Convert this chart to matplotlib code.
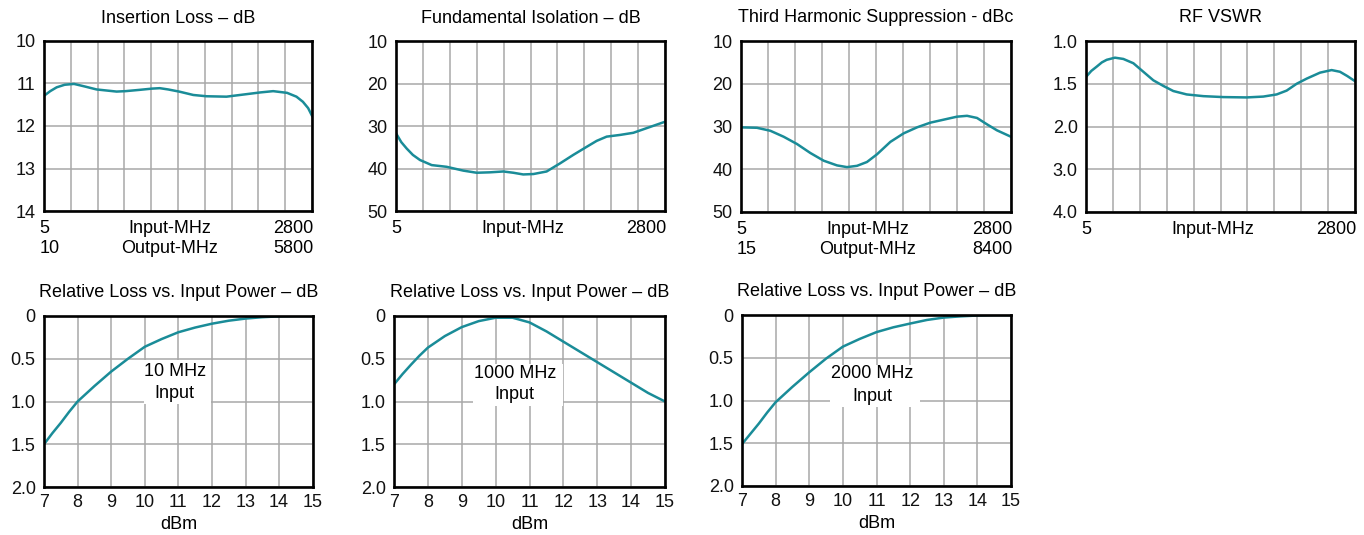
import numpy as np
import matplotlib
matplotlib.use("Agg")
import matplotlib.pyplot as plt
from matplotlib.patches import Rectangle

plt.rcParams['font.family'] = ['Liberation Sans', 'DejaVu Sans']
FS = 13
plt.rcParams['font.size'] = FS

# ---------------- data ----------------
# Insertion Loss (dB) vs input MHz
il_mhz = [5, 70, 137, 220, 318, 430, 553, 762, 855, 1000, 1134, 1212, 1300, 1414, 1562,
          1699, 1908, 1978, 2120, 2261, 2395, 2540, 2638, 2705, 2760, 2800]
il_db = [11.29, 11.18, 11.09, 11.03, 11.01, 11.07, 11.14, 11.19, 11.18, 11.15, 11.12,
         11.11, 11.14, 11.19, 11.27, 11.30, 11.31, 11.29, 11.25, 11.21, 11.18, 11.22,
         11.31, 11.43, 11.58, 11.76]

# Fundamental Isolation (dB)
fi_mhz = [5, 60, 116, 180, 254, 376, 531, 704, 843, 981, 1120, 1224, 1327, 1433, 1570,
          1709, 1847, 1986, 2090, 2194, 2333, 2471, 2610, 2800]
fi_db = [31.7, 33.8, 35.3, 36.8, 38.0, 39.2, 39.6, 40.5, 41.0, 40.9, 40.7, 41.0, 41.4,
         41.3, 40.7, 38.8, 36.8, 34.9, 33.5, 32.5, 32.1, 31.6, 30.5, 29.0]

# Third Harmonic Suppression (dBc)
th_mhz = [5, 170, 309, 447, 585, 723, 861, 999, 1102, 1206, 1309, 1413, 1551, 1689,
          1827, 1965, 2103, 2241, 2345, 2448, 2552, 2655, 2800]
th_dbc = [30.2, 30.3, 31.0, 32.4, 34.1, 36.2, 38.0, 39.1, 39.5, 39.2, 38.3, 36.5, 33.6,
          31.6, 30.2, 29.1, 28.4, 27.7, 27.5, 28.0, 29.5, 30.9, 32.4]

# RF VSWR
vs_mhz = [5, 60, 116, 170, 220, 306, 393, 497, 601, 705, 808, 912, 1051, 1224, 1432,
          1674, 1847, 1986, 2090, 2194, 2298, 2437, 2557, 2644, 2720, 2800]
vs_val = [1.42, 1.35, 1.30, 1.25, 1.22, 1.195, 1.21, 1.26, 1.36, 1.46, 1.525, 1.585,
          1.625, 1.645, 1.656, 1.66, 1.65, 1.625, 1.58, 1.50, 1.44, 1.37, 1.34, 1.36,
          1.41, 1.47]

# Relative loss vs input power (dB)
pw_dbm = [7, 7.25, 7.5, 7.75, 8, 8.5, 9, 9.5, 10, 10.5, 11, 11.5, 12, 12.5, 13, 13.5,
          14, 14.5, 15]
rl_10 = [1.50, 1.37, 1.25, 1.12, 1.00, 0.82, 0.65, 0.50, 0.36, 0.27, 0.19, 0.135, 0.09,
         0.055, 0.03, 0.014, 0.004, 0.0, 0.0]
rl_1000 = [0.80, 0.68, 0.57, 0.465, 0.37, 0.235, 0.13, 0.06, 0.02, 0.02, 0.075, 0.18,
           0.30, 0.42, 0.54, 0.66, 0.78, 0.90, 1.00]
rl_2000 = [1.51, 1.39, 1.27, 1.14, 1.02, 0.84, 0.67, 0.51, 0.37, 0.28, 0.20, 0.144,
           0.10, 0.058, 0.03, 0.016, 0.006, 0.0, 0.0]

freq_ticks = np.linspace(5, 2800, 11)
vswr_ticks = [1.0, 1.5, 2.0, 3.0, 4.0]
vswr_labels = ['1.0', '1.5', '2.0', '3.0', '4.0']
pw_ticks = [7, 8, 9, 10, 11, 12, 13, 14, 15]
rl_ticks = [0, 0.5, 1.0, 1.5, 2.0]
rl_labels = ['0', '0.5', '1.0', '1.5', '2.0']

# ---------------- style ----------------
LINE = '#1a8c98'
GRID = '#a8a8a8'
W, H = 1364, 535

fig = plt.figure(figsize=(W / 100, H / 100), dpi=100)


def make_ax(l, t, r, b):
    ax = fig.add_axes([l / W, 1 - b / H, (r - l) / W, (b - t) / H])
    for s in ax.spines.values():
        s.set_linewidth(1.9)
        s.set_color('black')
        s.set_zorder(5)
    ax.set_axisbelow(True)
    ax.grid(True, color=GRID, linewidth=1.1)
    ax.tick_params(length=0, pad=6, labelsize=FS, colors='#111111')
    return ax


def freq_axis(ax, out_lo=None, out_hi=None):
    ax.set_xlim(5, 2800)
    ax.set_xticks(freq_ticks)
    ax.tick_params(axis='x', labelbottom=False)
    tr = ax.transAxes
    ax.text(0.0, -0.1, '5', transform=tr, ha='center', va='center')
    ax.text(0.47, -0.1, 'Input-MHz', transform=tr, ha='center', va='center')
    ax.text(1.005, -0.1, '2800', transform=tr, ha='right', va='center')
    if out_lo is not None:
        ax.text(-0.015, -0.218, out_lo, transform=tr, ha='left', va='center')
        ax.text(0.47, -0.218, 'Output-MHz', transform=tr, ha='center', va='center')
        ax.text(1.005, -0.218, out_hi, transform=tr, ha='right', va='center')


def title(ax, s, off=0.135):
    ax.text(0.5, 1 + off, s, transform=ax.transAxes, ha='center', va='center')


# Insertion loss
ax1 = make_ax(44, 41, 312, 211)
ax1.plot(il_mhz, il_db, color=LINE, lw=1.8, zorder=3)
ax1.set_ylim(14, 10)
ax1.set_yticks([10, 11, 12, 13, 14])
freq_axis(ax1, '10', '5800')
title(ax1, 'Insertion Loss – dB')

# Fundamental isolation
ax2 = make_ax(396, 41, 665, 211)
ax2.plot(fi_mhz, fi_db, color=LINE, lw=1.8, zorder=3)
ax2.set_ylim(50, 10)
ax2.set_yticks([10, 20, 30, 40, 50])
freq_axis(ax2)
title(ax2, 'Fundamental Isolation – dB')

# Third harmonic suppression
ax3 = make_ax(741, 41, 1011, 212)
ax3.plot(th_mhz, th_dbc, color=LINE, lw=1.8, zorder=3)
ax3.set_ylim(50, 10)
ax3.set_yticks([10, 20, 30, 40, 50])
freq_axis(ax3, '15', '8400')
title(ax3, 'Third Harmonic Suppression - dBc')

# RF VSWR (non-linear, evenly spaced labels)
vs_pos = [0, 1, 2, 3, 4]


def vs_fwd(v):
    return np.interp(v, vswr_ticks, vs_pos)


def vs_inv(p):
    return np.interp(p, vs_pos, vswr_ticks)


ax4 = make_ax(1086, 41, 1355, 212)
ax4.set_yscale('function', functions=(vs_fwd, vs_inv))
ax4.plot(vs_mhz, vs_val, color=LINE, lw=1.8, zorder=3)
ax4.set_ylim(4.0, 1.0)
ax4.set_yticks(vswr_ticks)
ax4.set_yticklabels(vswr_labels)
ax4.minorticks_off()
freq_axis(ax4)
title(ax4, 'RF VSWR')


def power_ax(l, t, r, b, y, label1, box, t1, t2):
    ax = make_ax(l, t, r, b)
    ax.plot(pw_dbm, y, color=LINE, lw=1.8, zorder=3)
    ax.set_xlim(7, 15)
    ax.set_ylim(2.0, 0)
    ax.set_xticks(pw_ticks)
    ax.set_yticks(rl_ticks)
    ax.set_yticklabels(rl_labels)
    ax.tick_params(axis='x', pad=5)
    x0, x1, y0, y1 = box
    ax.add_patch(Rectangle((x0, y0), x1 - x0, y1 - y0, facecolor='white',
                           edgecolor='none', zorder=2))
    ax.text(t1[0], t1[1], label1, ha='center', va='center', zorder=4)
    ax.text(t2[0], t2[1], 'Input', ha='center', va='center', zorder=4)
    ax.text(0.5, -0.222, 'dBm', transform=ax.transAxes, ha='center', va='center')
    title(ax, 'Relative Loss vs. Input Power – dB', off=0.14)
    return ax


power_ax(44, 316, 312.7, 487, rl_10, '10 MHz',
         (9.97, 11.98, 0.52, 1.03), (10.9, 0.65), (10.89, 0.91))
power_ax(394, 316, 665, 487, rl_1000, '1000 MHz',
         (9.34, 11.98, 0.56, 1.05), (10.57, 0.67), (10.55, 0.92))
power_ax(742, 315, 1011, 486, rl_2000, '2000 MHz',
         (9.63, 12.3, 0.58, 1.08), (10.87, 0.69), (10.88, 0.95))

fig.savefig('out.png', dpi=100)
